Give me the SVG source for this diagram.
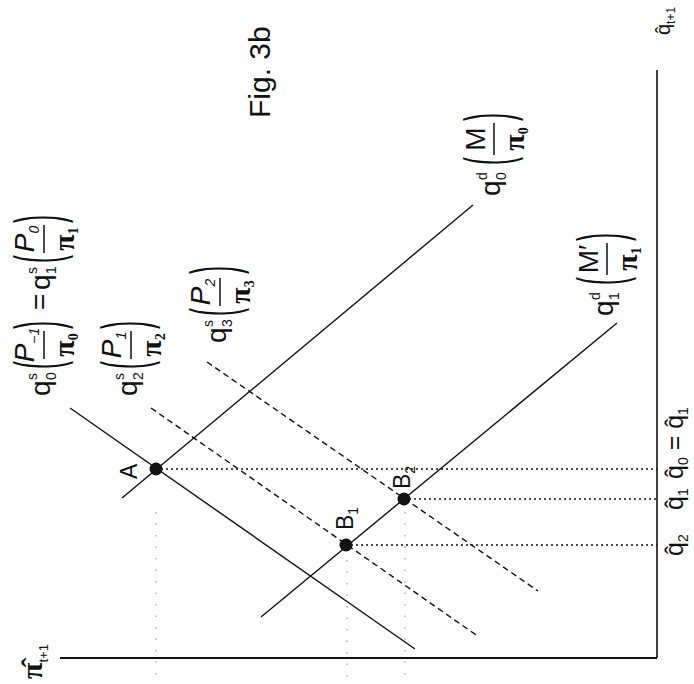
<svg xmlns="http://www.w3.org/2000/svg" width="694" height="684" viewBox="0 0 694 684">
<style>
.ax{stroke:#111;fill:none}
.ln{stroke:#111;stroke-width:1.4;fill:none}
.ds{stroke:#111;stroke-width:1.4;stroke-dasharray:6 4;fill:none}
.dt{stroke:#111;stroke-width:1.6;stroke-dasharray:2 3;fill:none}
.ft{stroke:#888;stroke-width:1;stroke-dasharray:1.5 10;fill:none}
.bar{stroke:#111;stroke-width:1.5}
text{font-family:"Liberation Sans",Arial,sans-serif;fill:#111}
.q{font-size:28px}
.sc{font-size:14px}
.P{font-style:italic;font-size:28px}
.M{font-size:28px}
.pi{font-family:"Liberation Serif","Times New Roman",serif;font-weight:bold;font-size:30px}
.par{font-size:24px}
.pt{font-size:23px}
.axl{font-size:25px}
.dot{fill:#111}
</style>
<rect width="694" height="684" fill="#fff"/>

<g id="axes">
  <line class="ax" x1="60" y1="658" x2="657" y2="658" stroke-width="2"/>
  <line class="ax" x1="657" y1="70" x2="657" y2="658" stroke-width="1.6"/>
</g>

<g id="connectors">
  <line id="supply-q0-q1" class="ln" x1="70" y1="408" x2="415" y2="649"/>
  <line id="demand-q0" class="ln" x1="122" y1="498" x2="473" y2="205"/>
  <line id="demand-q1" class="ln" x1="261" y1="617" x2="617" y2="323"/>
  <line id="supply-q2" class="ds" x1="151" y1="408" x2="479" y2="637"/>
  <line id="supply-q3" class="ds" x1="207" y1="362" x2="538" y2="591"/>
  <line class="dt" x1="156" y1="469" x2="657" y2="469"/>
  <line class="dt" x1="404" y1="499" x2="657" y2="499"/>
  <line class="dt" x1="346" y1="545" x2="657" y2="545"/>
  <line class="ft" x1="156" y1="512" x2="156" y2="684"/>
  <line class="ft" x1="347" y1="560" x2="347" y2="684"/>
  <line class="ft" x1="405" y1="512" x2="405" y2="684"/>
</g>

<g id="point-A">
  <circle class="dot" cx="156" cy="469" r="6.5"/>
  <text class="pt" transform="translate(137,479) rotate(-90)">A</text>
</g>
<g id="point-B1">
  <circle class="dot" cx="346" cy="545" r="6.5"/>
  <text class="pt" transform="translate(353,530) rotate(-90)">B<tspan class="sc" dy="5">1</tspan></text>
</g>
<g id="point-B2">
  <circle class="dot" cx="404" cy="499" r="6.5"/>
  <text class="pt" transform="translate(410,489) rotate(-90)">B<tspan class="sc" dy="5">2</tspan></text>
</g>

<g id="title">
  <text transform="translate(270,118) rotate(-90)" font-size="30">Fig. 3b</text>
</g>

<g id="label-supply-q0-q1" transform="translate(50,398) rotate(-90)">
  <text class="q" x="2" y="0">q</text>
  <text class="sc" x="18" y="-13">s</text>
  <text class="sc" x="18" y="6">0</text>
  <text class="par" transform="translate(29,-6.5) scale(1,2.7)" y="6.2">(</text>
  <text class="P" x="53" y="-16" text-anchor="middle">P<tspan class="sc" dy="5">−1</tspan></text>
  <line class="bar" x1="39" y1="-6" x2="67" y2="-6"/>
  <text class="pi" x="53" y="24" text-anchor="middle">π<tspan class="sc" dy="4">0</tspan></text>
  <text class="par" transform="translate(69,-6.5) scale(1,2.7)" y="6.2">)</text>
  <text class="q" x="88" y="-1">=</text>
  <text class="q" x="108" y="0">q</text>
  <text class="sc" x="124" y="-13">s</text>
  <text class="sc" x="124" y="6">1</text>
  <text class="par" transform="translate(135,-6.5) scale(1,2.7)" y="6.2">(</text>
  <text class="P" x="159" y="-16" text-anchor="middle">P<tspan class="sc" dy="5">0</tspan></text>
  <line class="bar" x1="145" y1="-6" x2="173" y2="-6"/>
  <text class="pi" x="159" y="24" text-anchor="middle">π<tspan class="sc" dy="4">1</tspan></text>
  <text class="par" transform="translate(175,-6.5) scale(1,2.7)" y="6.2">)</text>
</g>

<g id="label-supply-q2" transform="translate(137,398) rotate(-90)">
  <text class="q" x="2" y="0">q</text>
  <text class="sc" x="18" y="-13">s</text>
  <text class="sc" x="18" y="6">2</text>
  <text class="par" transform="translate(29,-6.5) scale(1,2.7)" y="6.2">(</text>
  <text class="P" x="53" y="-16" text-anchor="middle">P<tspan class="sc" dy="5">1</tspan></text>
  <line class="bar" x1="39" y1="-6" x2="67" y2="-6"/>
  <text class="pi" x="53" y="24" text-anchor="middle">π<tspan class="sc" dy="4">2</tspan></text>
  <text class="par" transform="translate(69,-6.5) scale(1,2.7)" y="6.2">)</text>
</g>

<g id="label-supply-q3" transform="translate(226,345) rotate(-90)">
  <text class="q" x="2" y="0">q</text>
  <text class="sc" x="18" y="-13">s</text>
  <text class="sc" x="18" y="6">3</text>
  <text class="par" transform="translate(29,-6.5) scale(1,2.7)" y="6.2">(</text>
  <text class="P" x="53" y="-16" text-anchor="middle">P<tspan class="sc" dy="5">2</tspan></text>
  <line class="bar" x1="39" y1="-6" x2="67" y2="-6"/>
  <text class="pi" x="53" y="24" text-anchor="middle">π<tspan class="sc" dy="4">3</tspan></text>
  <text class="par" transform="translate(71,-6.5) scale(1,2.7)" y="6.2">)</text>
</g>

<g id="label-demand-q0" transform="translate(500,198) rotate(-90)">
  <text class="q" x="2" y="0">q</text>
  <text class="sc" x="18" y="-13">d</text>
  <text class="sc" x="18" y="6">0</text>
  <text class="par" transform="translate(33,-6.5) scale(1,2.7)" y="6.2">(</text>
  <text class="M" x="59" y="-15" text-anchor="middle">M</text>
  <line class="bar" x1="43" y1="-6" x2="75" y2="-6"/>
  <text class="pi" x="59" y="24" text-anchor="middle">π<tspan class="sc" dy="4">0</tspan></text>
  <text class="par" transform="translate(77,-6.5) scale(1,2.7)" y="6.2">)</text>
</g>

<g id="label-demand-q1" transform="translate(613,318) rotate(-90)">
  <text class="q" x="2" y="0">q</text>
  <text class="sc" x="18" y="-13">d</text>
  <text class="sc" x="18" y="6">1</text>
  <text class="par" transform="translate(33,-6.5) scale(1,2.7)" y="6.2">(</text>
  <text class="M" x="59" y="-15" text-anchor="middle">M′</text>
  <line class="bar" x1="43" y1="-6" x2="75" y2="-6"/>
  <text class="pi" x="59" y="24" text-anchor="middle">π<tspan class="sc" dy="4">1</tspan></text>
  <text class="par" transform="translate(77,-6.5) scale(1,2.7)" y="6.2">)</text>
</g>

<g id="axis-labels">
  <text transform="translate(42,679) rotate(-90)"><tspan class="pi" font-size="24">π̂</tspan><tspan font-size="13" dy="6">t+1</tspan></text>
  <text transform="translate(670,35) rotate(-90)" font-size="20">q̂<tspan font-size="12" dy="5">t+1</tspan></text>
  <text class="axl" transform="translate(683,556) rotate(-90)">q̂<tspan class="sc" dy="5">2</tspan></text>
  <text class="axl" transform="translate(683,510) rotate(-90)">q̂<tspan class="sc" dy="5">1</tspan></text>
  <text class="axl" transform="translate(683,479) rotate(-90)">q̂<tspan class="sc" dy="5">0</tspan><tspan dy="-5"> = q̂</tspan><tspan class="sc" dy="5">1</tspan></text>
</g>
</svg>
